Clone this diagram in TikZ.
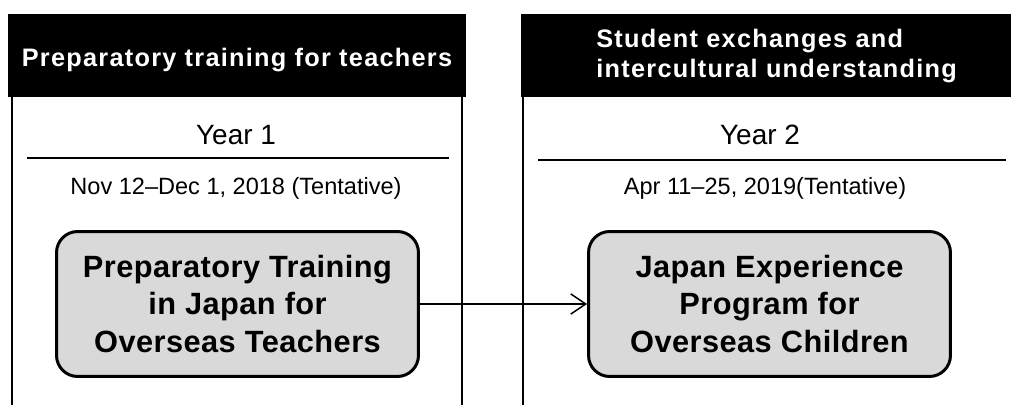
\documentclass[tikz,border=0pt]{standalone}
\usepackage{fontspec}
\setmainfont{Liberation Sans}
\newfontfamily\headfont{Liberation Sans}[LetterSpace=5]
\newfontfamily\boxfont{Liberation Sans}[LetterSpace=1.5]
\usetikzlibrary{arrows.meta}
\usetikzlibrary{positioning}
\definecolor{boxgray}{HTML}{D9D9D9}
\tikzset{header/.style = {fill=black}}
\tikzset{headtext/.style = {text=white, inner sep=0pt,
                            font=\headfont\bfseries\fontsize{14.4}{17}\selectfont}}
\tikzset{yeartext/.style = {inner sep=0pt, font=\fontsize{15.9}{18}\selectfont}}
\tikzset{datetext/.style = {inner sep=0pt, font=\fontsize{13.4}{16}\selectfont}}
\tikzset{rule/.style = {line width=0.85pt}}
\tikzset{border/.style = {line width=1.7pt}}
\tikzset{program/.style = {draw, line width=1.7pt, fill=boxgray, rounded corners=12pt,
                           minimum width=7.24cm, minimum height=2.9cm, align=center,
                           font=\boxfont\bfseries\fontsize{17.5}{21.2}\selectfont}}
\tikzset{flow/.style = {-{Straight Barb[length=8.5pt,width=11.5pt]}, line width=0.85pt}}

\begin{document}
\begin{tikzpicture}[x=0.02cm, y=-0.02cm]
    \useasboundingbox (0, 0) rectangle (1011, 405);
    % year 1
    \fill [header] (8, 14) rectangle (466, 97);
    \draw [border] (12, 97) -- (12, 405);
    \draw [border] (462, 97) -- (462, 405);
    \node [headtext, anchor=base] (head1) at (237, 67) {Preparatory training for teachers};
    \node [yeartext, anchor=base] (year1) at (236, 145) {Year 1};
    \draw [rule] (27, 158) -- (449, 158);
    \node [datetext, anchor=base] (date1) at (236, 195) {Nov 12–Dec 1, 2018 (Tentative)};
    \node [program] (prep) at (237.5, 304) {Preparatory Training\\in Japan for\\Overseas Teachers};
    % year 2
    \fill [header] (521, 14) rectangle (1011, 97);
    \draw [border] (523, 97) -- (523, 405);
    \node [headtext, anchor=west, align=left] (head2) at (596, 56) {Student exchanges and\\intercultural understanding};
    \node [yeartext, anchor=base] (year2) at (760, 145) {Year 2};
    \draw [rule] (538, 160) -- (1006, 160);
    \node [datetext, anchor=base] (date2) at (765, 195) {Apr 11–25, 2019(Tentative)};
    \node [program] (japan) at (769.5, 304) {Japan Experience\\Program for\\Overseas Children};
    \draw [flow] (prep) -- (japan);
  \end{tikzpicture}
\end{document}
